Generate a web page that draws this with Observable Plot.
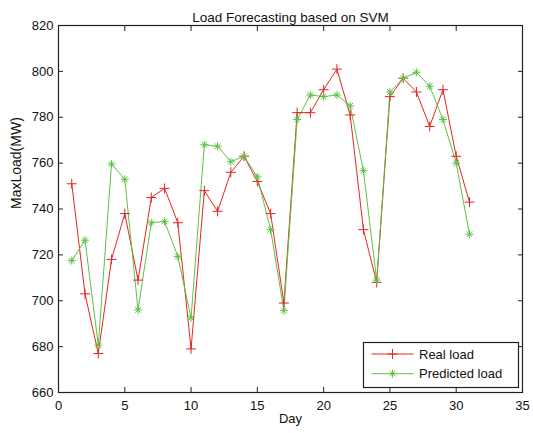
<!DOCTYPE html>
<html><head><meta charset="utf-8">
<script src="https://cdn.jsdelivr.net/npm/d3@7"></script>
<script src="https://cdn.jsdelivr.net/npm/@observablehq/plot@0.6"></script>
<style>
body{margin:0;background:#fff;font-family:"Liberation Sans",Arial,sans-serif}
#wrap{position:relative;width:533px;height:433px}
#legend{position:absolute;left:0;top:0}
</style>
</head><body><div id="wrap"></div>
<script>
const days = [1,2,3,4,5,6,7,8,9,10,11,12,13,14,15,16,17,18,19,20,21,22,23,24,25,26,27,28,29,30,31];
const realLoad = [751,703,677,718,738,709,745,749,734,679,748,739,756,763,752,738,699,782,782,792,801,781,731,708,789,797,791,776,792,763,743];
const predictedLoad = [717.5,726.4,680.6,759.6,753,696,734,734.6,719.3,692.5,768,767.4,760.6,763,754,731,695.7,779,789.7,789,789.7,785,756.7,709,791,797,799.6,793.5,779,760,729];
const xTicks = [0,5,10,15,20,25,30,35];
const yTicks = [660,680,700,720,740,760,780,800,820];
const seriesNames = ["Real load","Predicted load"];
const colors = ["#e3261f","#5cc246"];

const plusSym = {draw(ctx, size){const r=Math.sqrt(size/Math.PI); ctx.moveTo(-r,0); ctx.lineTo(r,0); ctx.moveTo(0,-r); ctx.lineTo(0,r);}};
const starSym = {draw(ctx, size){const r=Math.sqrt(size/Math.PI); const d=r*Math.SQRT1_2; ctx.moveTo(-r,0); ctx.lineTo(r,0); ctx.moveTo(0,-r); ctx.lineTo(0,r); ctx.moveTo(-d,-d); ctx.lineTo(d,d); ctx.moveTo(-d,d); ctx.lineTo(d,-d);}};

const real = days.map((d,i)=>({day:d, v:realLoad[i]}));
const pred = days.map((d,i)=>({day:d, v:predictedLoad[i]}));

const chart = Plot.plot({
  width:533, height:433,
  marginLeft:58, marginRight:11, marginTop:25, marginBottom:41,
  style:{fontFamily:"Liberation Sans, Arial, sans-serif", fontSize:"13px", color:"#222", background:"#fff"},
  x:{domain:[0,35]},
  y:{domain:[660,820]},
  marks:[
    Plot.line(real,{x:"day",y:"v",stroke:colors[0],strokeWidth:1}),
    Plot.line(pred,{x:"day",y:"v",stroke:colors[1],strokeWidth:1}),
    Plot.dot(real,{x:"day",y:"v",symbol:plusSym,r:5,stroke:colors[0],fill:"none",strokeWidth:1}),
    Plot.dot(pred,{x:"day",y:"v",symbol:starSym,r:4,stroke:colors[1],fill:"none",strokeWidth:1}),
    Plot.frame({stroke:"#222",strokeWidth:1.2}),
    Plot.axisX(xTicks,{anchor:"bottom",tickSize:-5,tickPadding:13,label:null,fontSize:13,fill:"#111",stroke:"#222"}),
    Plot.axisX(xTicks,{anchor:"top",tickSize:-5,tickFormat:()=>"",label:null,stroke:"#222"}),
    Plot.axisY(yTicks,{anchor:"left",tickSize:-5,tickPadding:10,label:null,fontSize:13,fill:"#111",stroke:"#222"}),
    Plot.axisY(yTicks,{anchor:"right",tickSize:-5,tickFormat:()=>"",label:null,stroke:"#222"}),
    Plot.text(["Load Forecasting based on SVM"],{frameAnchor:"top",dy:-13.2,fontSize:13.5,fill:"#111"}),
    Plot.text(["Day"],{frameAnchor:"bottom",dy:30.5,fontSize:13,fill:"#111"}),
    Plot.text(["MaxLoad(MW)"],{frameAnchor:"left",dx:-42,rotate:-90,fontSize:14,fill:"#111"})
  ]
});
const wrap = document.getElementById("wrap");
wrap.appendChild(chart);

// legend overlay
const ns="http://www.w3.org/2000/svg";
const lg=document.createElementNS(ns,"svg");
lg.setAttribute("id","legend");lg.setAttribute("width",533);lg.setAttribute("height",433);
const box={x:363,y:342,w:155,h:45};
let html=`<rect x="${box.x+0.5}" y="${box.y+0.5}" width="${box.w}" height="${box.h}" fill="#fff" stroke="#222" stroke-width="1.2"/>`;
seriesNames.forEach((name,i)=>{
  const cy=box.y+12+i*19.7;
  html+=`<line x1="371.5" x2="413.5" y1="${cy}" y2="${cy}" stroke="${colors[i]}" stroke-width="1"/>`;
  if(i===0){
    html+=`<path d="M387.5,${cy}h10M392.5,${cy-5}v10" stroke="${colors[i]}" fill="none"/>`;
  } else {
    const r=4,d=r*Math.SQRT1_2;
    html+=`<path d="M${392.5-r},${cy}h${2*r}M392.5,${cy-r}v${2*r}M${392.5-d},${cy-d}L${392.5+d},${cy+d}M${392.5-d},${cy+d}L${392.5+d},${cy-d}" stroke="${colors[i]}" fill="none"/>`;
  }
  html+=`<text x="419" y="${cy}" dy="0.35em" font-size="13" font-family="Liberation Sans, Arial, sans-serif" fill="#111">${name}</text>`;
});
lg.innerHTML=html;
wrap.appendChild(lg);
</script>
</body></html>
